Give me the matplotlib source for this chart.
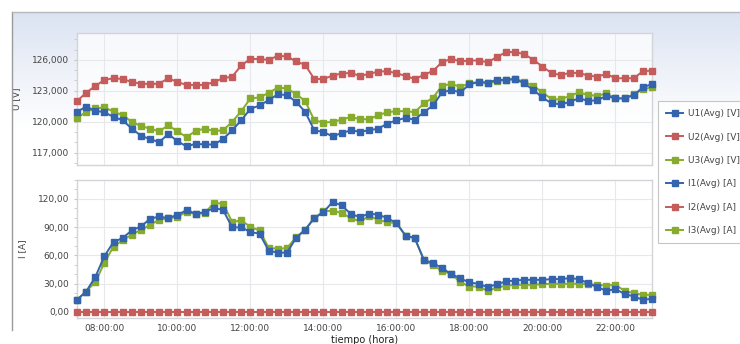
import numpy as np
import pandas as pd
import matplotlib
matplotlib.use("Agg")
import matplotlib.pyplot as plt
import matplotlib.dates as mdates
from matplotlib.lines import Line2D
from matplotlib.ticker import FuncFormatter, MultipleLocator

# 15 minute samples, 07:15 -> 23:00
times = pd.date_range("2020-01-01 07:15", "2020-01-01 23:00", freq="15min")

U1 = [120950, 121470, 121050, 120920, 120460, 120140, 119330, 118640, 118310, 118020,
      118800, 118120, 117600, 117860, 117790, 117790, 118310, 119160, 120140, 121240,
      121570, 122090, 122650, 122580, 121930, 120950, 119160, 119000, 118580, 118900,
      119160, 119030, 119160, 119330, 119810, 120140, 120360, 120200, 120920, 121570,
      122840, 123070, 122840, 123620, 123850, 123790, 124050, 124050, 124140, 123720,
      123070, 122350, 121770, 121700, 121900, 122290, 122000, 122090, 122480, 122260,
      122260, 122580, 123330, 123650]
U2 = [122000, 122800, 123460, 124050, 124210, 124140, 123850, 123690, 123650, 123690,
      124210, 123850, 123560, 123560, 123560, 123850, 124210, 124370, 125450, 126100,
      126070, 126000, 126390, 126330, 125840, 125510, 124140, 124140, 124470, 124670,
      124730, 124440, 124630, 124860, 124890, 124700, 124440, 124140, 124530, 124925,
      125770, 126100, 125840, 125930, 125930, 125770, 126260, 126750, 126750, 126550,
      126000, 125350, 124700, 124530, 124730, 124730, 124470, 124370, 124630, 124210,
      124210, 124210, 124890, 124960]
U3 = [120360, 120950, 121280, 121380, 120990, 120630, 119980, 119580, 119330, 119060,
      119650, 119060, 118510, 119100, 119330, 119100, 119160, 119980, 121020, 122260,
      122350, 122800, 123300, 123230, 122680, 122000, 120140, 119910, 119980, 120200,
      120460, 120240, 120240, 120630, 120920, 121020, 121020, 120920, 121770, 122320,
      123490, 123650, 123390, 123720, 123850, 123720, 123920, 124050, 124140, 123880,
      123460, 122840, 122190, 122160, 122510, 122840, 122580, 122510, 122740, 122260,
      122260, 122650, 123140, 123330]

I1 = [12.8, 21.6, 36.9, 59.2, 74.1, 78.4, 86.5, 90.8, 98.6, 101.4,
      99.3, 103.2, 107.8, 104.3, 105.7, 110.3, 108.2, 89.7, 89.7, 84.8,
      83.0, 65.0, 62.8, 62.8, 78.4, 87.2, 99.6, 105.7, 116.7, 113.1,
      103.9, 100.7, 104.3, 103.2, 99.6, 94.3, 80.9, 78.4, 55.3, 51.8,
      46.5, 40.1, 35.5, 31.2, 29.8, 26.2, 29.4, 32.3, 33.3, 34.0,
      34.0, 34.0, 34.8, 34.8, 35.8, 34.8, 30.5, 26.2, 22.3, 24.1,
      19.1, 16.3, 12.8, 13.8]
I2 = [0.0] * 64
I3 = [12.8, 21.6, 31.6, 52.1, 69.4, 76.0, 82.0, 87.2, 92.0, 98.0,
      99.3, 101.0, 106.0, 104.0, 105.0, 115.6, 114.9, 95.4, 97.2, 90.1,
      86.5, 68.0, 67.0, 67.7, 79.1, 87.2, 99.6, 106.7, 107.4, 105.0,
      99.6, 96.1, 101.4, 97.9, 95.0, 94.3, 80.9, 78.4, 55.3, 49.3,
      43.6, 40.1, 31.6, 26.9, 26.9, 22.3, 25.9, 27.7, 28.7, 28.7,
      28.7, 29.4, 29.8, 29.8, 29.8, 29.8, 29.4, 28.7, 28.0, 28.7,
      22.3, 19.9, 18.1, 18.1]

BLUE = "#3464ae"
RED = "#c45c5c"
GREEN = "#87ab2c"
TXT = "#444444"
GRID = "#e6e8ec"

W, H = 740, 344
fig = plt.figure(figsize=(W / 100, H / 100), dpi=100)
fig.patch.set_facecolor("white")

# gradient panel behind everything
bg = fig.add_axes([12 / W, 0, 1 - 12 / W, 1 - 12 / H], zorder=-5)
grad = np.linspace(0, 1, 200).reshape(-1, 1)
top_c = np.array([0.86, 0.89, 0.95])
cols = top_c + (1 - top_c) * np.clip(grad / 0.35, 0, 1)
bg.imshow(cols.reshape(200, 1, 3), aspect="auto", extent=[0, 1, 0, 1], origin="upper")
bg.set_xlim(0, 1)
bg.set_ylim(0, 1)
bg.axis("off")
fig.add_artist(Line2D([12 / W, 12 / W], [1 - 330 / H, 1 - 12 / H], color="#9a9a9a", lw=1))
fig.add_artist(Line2D([12 / W, 1], [1 - 12 / H, 1 - 12 / H], color="#b5b8bd", lw=1))


def style_axes(ax):
    ax.set_facecolor((1, 1, 1, 0.75))
    for s in ax.spines.values():
        s.set_color("#d2d4d8")
        s.set_linewidth(1)
    ax.grid(True, which="major", color=GRID, lw=0.8)
    ax.tick_params(axis="both", which="both", colors="#c8c8c8", labelcolor=TXT,
                   labelsize=6.5, length=2)
    ax.set_axisbelow(True)
    ax.set_xlim(times[0], times[-1])
    ax.xaxis.set_major_locator(mdates.HourLocator(byhour=range(8, 24, 2)))
    ax.xaxis.set_major_formatter(mdates.DateFormatter("%H:%M:%S"))


x0, x1 = 77 / W, 652 / W
ax1 = fig.add_axes([x0, 1 - 165 / H, x1 - x0, (165 - 33) / H])
ax2 = fig.add_axes([x0, 1 - 318 / H, x1 - x0, (318 - 180) / H])
style_axes(ax1)
style_axes(ax2)

mk = dict(marker="s", markersize=5, lw=1.4, clip_on=False)
h1, = ax1.plot(times, U1, color=BLUE, zorder=4, label="U1(Avg) [V]", **mk)
h2, = ax1.plot(times, U2, color=RED, zorder=3, label="U2(Avg) [V]", **mk)
h3, = ax1.plot(times, U3, color=GREEN, zorder=3, label="U3(Avg) [V]", **mk)
h4, = ax2.plot(times, I1, color=BLUE, zorder=4, label="I1(Avg) [A]", **mk)
h5, = ax2.plot(times, I2, color=RED, zorder=3, label="I2(Avg) [A]", **mk)
h6, = ax2.plot(times, I3, color=GREEN, zorder=3, label="I3(Avg) [A]", **mk)

ax1.set_ylim(115800, 128600)
ax1.yaxis.set_major_locator(MultipleLocator(3000))
ax1.yaxis.set_minor_locator(MultipleLocator(1000))
ax1.yaxis.set_major_formatter(FuncFormatter(lambda v, p: f"{v:,.0f}"))
ax1.tick_params(axis="x", labelbottom=False, length=0)
ax1.set_ylabel("U [V]", fontsize=6.5, color=TXT, labelpad=8)

ax2.set_ylim(-6.5, 140)
ax2.yaxis.set_major_locator(MultipleLocator(30))
ax2.yaxis.set_minor_locator(MultipleLocator(10))
ax2.yaxis.set_major_formatter(FuncFormatter(lambda v, p: f"{v:.2f}".replace(".", ",")))
ax2.tick_params(axis="x", length=0, pad=4)
ax2.set_ylabel("I [A]", fontsize=6.5, color=TXT, labelpad=8)
ax2.set_xlabel("tiempo (hora)", fontsize=7, color="#222222", labelpad=2)

leg = fig.legend(handles=[h1, h2, h3, h4, h5, h6], loc="upper left",
                 bbox_to_anchor=(658 / W, 1 - 101 / H), fontsize=6.5,
                 frameon=True, fancybox=False, handlelength=1.9, handletextpad=0.5,
                 labelspacing=1.6, borderpad=0.9, borderaxespad=0)
leg.get_frame().set_edgecolor("#b8b8b8")
leg.get_frame().set_linewidth(0.8)
for t in leg.get_texts():
    t.set_color(TXT)

fig.savefig("out.png", dpi=100)
